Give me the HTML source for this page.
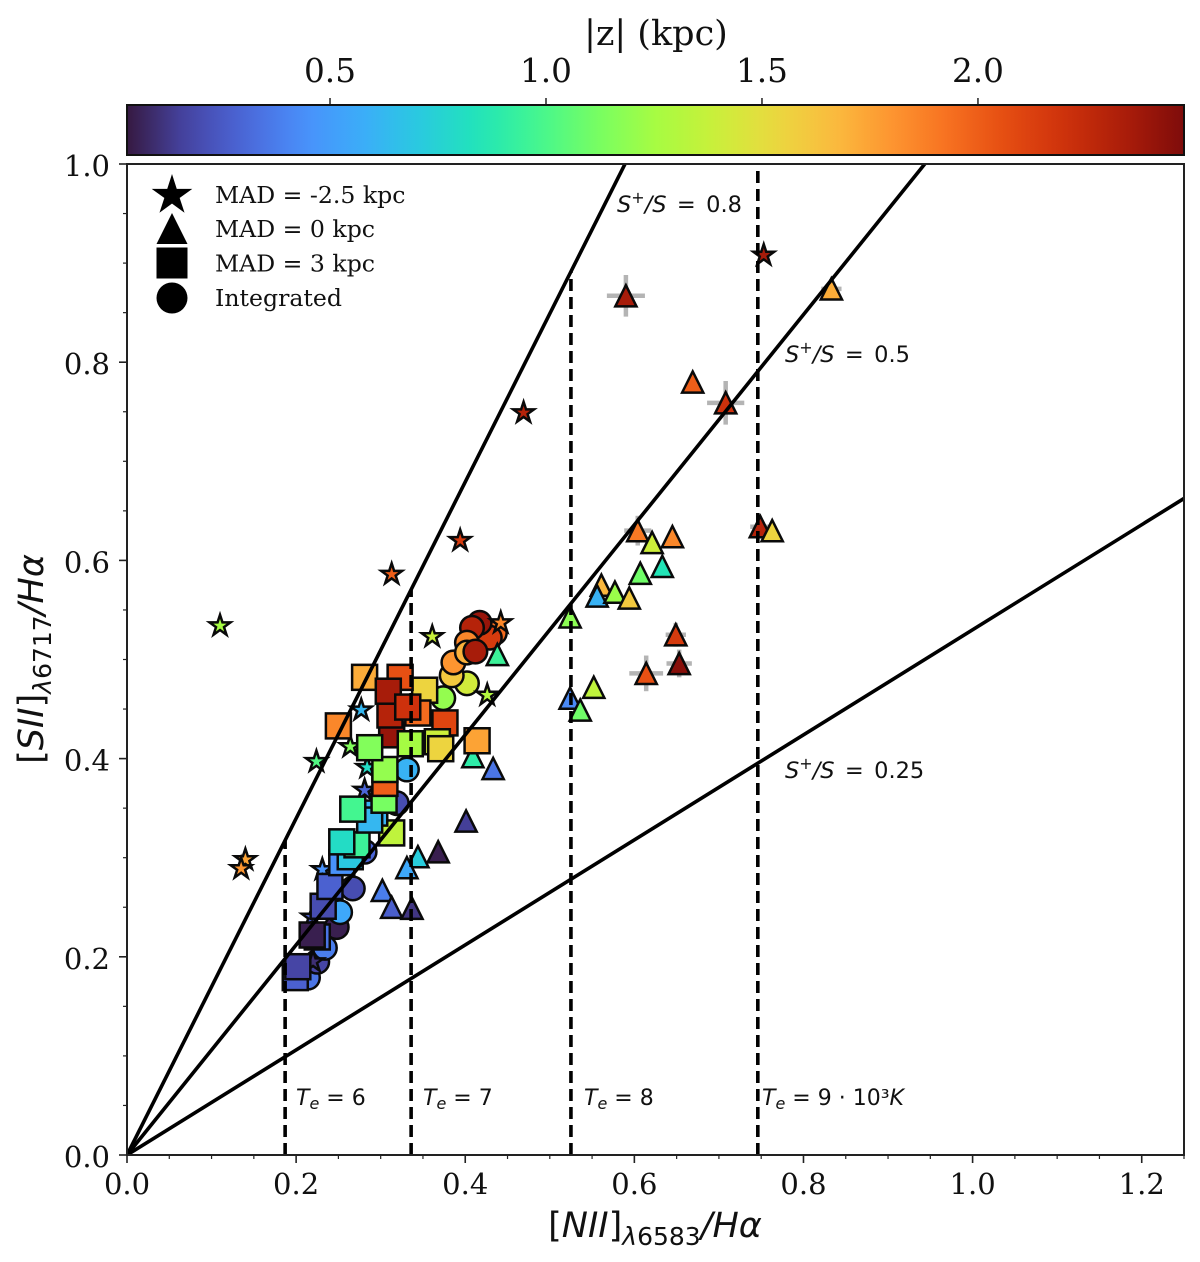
<!DOCTYPE html>
<html>
<head>
<meta charset="utf-8">
<title>SII vs NII line ratios</title>
<style>
html,body{margin:0;padding:0;background:#fff;width:1200px;height:1262px;overflow:hidden}
svg{display:block}
.serif{font-family:"DejaVu Serif","Liberation Serif",serif;fill:#111}
.sans{font-family:"DejaVu Sans","Liberation Sans",sans-serif;fill:#111}
.it{font-style:italic}
</style>
</head>
<body>
<svg id="fig" xmlns="http://www.w3.org/2000/svg" width="1200" height="1262" viewBox="0 0 1200 1262">
  <defs>
    <linearGradient id="cbar-grad" x1="0" x2="1" y1="0" y2="0"></linearGradient>
    <clipPath id="plot-clip"><rect x="127" y="164" width="1057" height="991"></rect></clipPath>
  </defs>
  <rect x="0" y="0" width="1200" height="1262" fill="#fff"></rect>

  <text class="serif" x="656" y="45" font-size="35" text-anchor="middle">|z| (kpc)</text>
  <g id="cbar-ticks"></g>
  <rect x="127" y="105" width="1057" height="50" fill="url(#cbar-grad)" stroke="#111" stroke-width="2"></rect>

  <g id="errors" clip-path="url(#plot-clip)"></g>
  <g id="circles" clip-path="url(#plot-clip)"></g>
  <g id="stars" clip-path="url(#plot-clip)"></g>
  <g id="triangles" clip-path="url(#plot-clip)"></g>
  <g id="squares" clip-path="url(#plot-clip)"></g>
  <g id="ratio-lines" clip-path="url(#plot-clip)"></g>
  <g id="temp-lines" clip-path="url(#plot-clip)"></g>

  <rect x="127" y="164" width="1057" height="991" fill="none" stroke="#222" stroke-width="2"></rect>
  <g id="axis-ticks"></g>

  <g>
    <path d="M172,176.5 L176.2,189.6 L190,189.6 L178.8,197.7 L183.1,210.8 L172,202.7 L160.900,210.800 L165.200,197.700 L154,189.6 L167.800,189.600 Z" fill="#000" stroke="#000" stroke-width="1.5"></path>
    <path d="M172,213 L187.500,244 L156.500,244 Z" fill="#000"></path>
    <rect x="156.500" y="247.500" width="31" height="31" fill="#000"></rect>
    <circle cx="172" cy="298" r="15.500" fill="#000"></circle>
    <text class="serif" x="215" y="203" font-size="23.600">MAD = -2.5 kpc</text>
    <text class="serif" x="215" y="237" font-size="23.600">MAD = 0 kpc</text>
    <text class="serif" x="215" y="271.500" font-size="23.600">MAD = 3 kpc</text>
    <text class="serif" x="215" y="306" font-size="23.600">Integrated</text>
  </g>

  <text class="sans" x="617" y="212" font-size="22.500" word-spacing="3.2"><tspan class="it">S</tspan><tspan font-size="16" dy="-9">+</tspan><tspan dy="9" class="it">/S</tspan> = 0.8</text>
  <text class="sans" x="785" y="362" font-size="22.500" word-spacing="3.2"><tspan class="it">S</tspan><tspan font-size="16" dy="-9">+</tspan><tspan dy="9" class="it">/S</tspan> = 0.5</text>
  <text class="sans" x="785" y="778" font-size="22.500" word-spacing="3.2"><tspan class="it">S</tspan><tspan font-size="16" dy="-9">+</tspan><tspan dy="9" class="it">/S</tspan> = 0.25</text>

  <text class="sans" x="296" y="1105" font-size="22"><tspan class="it">T</tspan><tspan class="it" font-size="16" dy="4">e</tspan><tspan dy="-4"> = 6</tspan></text>
  <text class="sans" x="423" y="1105" font-size="22"><tspan class="it">T</tspan><tspan class="it" font-size="16" dy="4">e</tspan><tspan dy="-4"> = 7</tspan></text>
  <text class="sans" x="584" y="1105" font-size="22"><tspan class="it">T</tspan><tspan class="it" font-size="16" dy="4">e</tspan><tspan dy="-4"> = 8</tspan></text>
  <text class="sans" x="762" y="1105" font-size="22"><tspan class="it">T</tspan><tspan class="it" font-size="16" dy="4">e</tspan><tspan dy="-4"> = 9 · 10³</tspan><tspan class="it">K</tspan></text>

  <text class="sans" x="655" y="1237" font-size="35" text-anchor="middle">[<tspan class="it">NII</tspan>]<tspan font-size="25" dy="8" class="it">λ</tspan><tspan font-size="25">6583</tspan><tspan dy="-8" class="it">/Hα</tspan></text>
  <text class="sans" transform="translate(43,659) rotate(-90)" x="0" y="0" font-size="35" text-anchor="middle">[<tspan class="it">SII</tspan>]<tspan font-size="25" dy="8" class="it">λ</tspan><tspan font-size="25">6717</tspan><tspan dy="-8" class="it">/Hα</tspan></text>
</svg>

<script>
// ---- chart data ----
const xTickLabels = ['0.0', '0.2', '0.4', '0.6', '0.8', '1.0', '1.2'];
const yTickLabels = ['0.0', '0.2', '0.4', '0.6', '0.8', '1.0'];
const cbarTickLabels = ['0.5', '1.0', '1.5', '2.0'];
const ratioSlopes = [1.698, 1.06, 0.53];
const tempLineX = [0.187, 0.336, 0.525, 0.746];

const starX = [0.753, 0.469, 0.394, 0.313, 0.110, 0.361, 0.442, 0.426, 0.277, 0.224, 0.264, 0.140, 0.135, 0.284, 0.281, 0.231, 0.219, 0.220];
const starY = [0.908, 0.749, 0.620, 0.586, 0.534, 0.523, 0.537, 0.464, 0.449, 0.397, 0.412, 0.298, 0.289, 0.391, 0.368, 0.288, 0.240, 0.195];
const starZ = [2.35, 2.30, 2.15, 2.00, 1.25, 1.38, 1.85, 1.30, 0.62, 1.02, 1.15, 1.75, 1.80, 0.80, 0.30, 0.45, 0.25, 0.10];

const triX = [0.833, 0.590, 0.669, 0.708, 0.749, 0.763, 0.604, 0.621, 0.645, 0.633, 0.607, 0.561, 0.556, 0.577, 0.594, 0.524, 0.649, 0.653, 0.614, 0.552, 0.524, 0.536, 0.438, 0.409, 0.433, 0.401, 0.368, 0.344, 0.331, 0.302, 0.313, 0.337];
const triY = [0.874, 0.867, 0.780, 0.759, 0.634, 0.630, 0.630, 0.618, 0.624, 0.594, 0.587, 0.575, 0.564, 0.568, 0.562, 0.543, 0.525, 0.496, 0.486, 0.472, 0.461, 0.449, 0.505, 0.402, 0.390, 0.337, 0.306, 0.301, 0.290, 0.267, 0.250, 0.249];
const triZ = [1.72, 2.35, 2.00, 2.20, 2.30, 1.55, 1.90, 1.40, 1.85, 0.85, 1.10, 1.68, 0.60, 1.22, 1.60, 1.18, 2.15, 2.45, 2.05, 1.35, 0.42, 1.10, 0.95, 0.90, 0.35, 0.15, 0.05, 0.72, 0.55, 0.38, 0.27, 0.12];
const triXErr = [0.012, 0.0225, 0.004, 0.022, 0.012, 0.004, 0.016, 0.004, 0.004, 0.004, 0.004, 0.004, 0.004, 0.004, 0.004, 0.004, 0.012, 0.015, 0.020, 0.004, 0.004, 0.004, 0.004, 0.004, 0.004, 0.004, 0.004, 0.004, 0.004, 0.004, 0.004, 0.004];
const triYErr = [0.010, 0.021, 0.004, 0.022, 0.005, 0.004, 0.015, 0.004, 0.004, 0.004, 0.004, 0.004, 0.004, 0.004, 0.004, 0.004, 0.012, 0.014, 0.018, 0.004, 0.004, 0.004, 0.004, 0.004, 0.004, 0.004, 0.004, 0.004, 0.004, 0.004, 0.004, 0.004];

const squareX = [0.199, 0.202, 0.225, 0.219, 0.232, 0.240, 0.254, 0.264, 0.272, 0.254, 0.313, 0.293, 0.287, 0.304, 0.267, 0.305, 0.305, 0.313, 0.287, 0.414, 0.376, 0.367, 0.371, 0.335, 0.250, 0.281, 0.352, 0.323, 0.344, 0.311, 0.309, 0.332];
const squareY = [0.179, 0.190, 0.220, 0.222, 0.251, 0.271, 0.295, 0.301, 0.313, 0.316, 0.325, 0.345, 0.338, 0.358, 0.349, 0.375, 0.389, 0.424, 0.411, 0.418, 0.436, 0.417, 0.410, 0.415, 0.433, 0.482, 0.469, 0.482, 0.446, 0.444, 0.468, 0.452];
const squareZ = [0.28, 0.17, 0.35, 0.05, 0.20, 0.28, 0.45, 0.70, 0.95, 0.80, 1.35, 0.60, 0.62, 1.12, 0.98, 2.00, 1.20, 2.40, 1.15, 1.75, 2.10, 1.40, 1.55, 1.25, 1.85, 1.72, 1.55, 2.05, 1.95, 2.30, 2.35, 2.20];

const circleX = [0.214, 0.225, 0.234, 0.248, 0.252, 0.267, 0.281, 0.319, 0.331, 0.374, 0.402, 0.384, 0.386, 0.435, 0.429, 0.417, 0.408, 0.402, 0.402, 0.412];
const circleY = [0.179, 0.195, 0.209, 0.230, 0.245, 0.269, 0.306, 0.355, 0.389, 0.461, 0.476, 0.484, 0.497, 0.527, 0.522, 0.537, 0.532, 0.517, 0.507, 0.508];
const circleZ = [0.35, 0.17, 0.38, 0.05, 0.55, 0.20, 0.30, 0.20, 0.60, 1.20, 1.42, 1.60, 1.80, 1.95, 2.15, 2.40, 2.30, 1.85, 1.70, 2.35];

// ---- axis functions ----
const NS = 'http://www.w3.org/2000/svg';
function sx(v) { return 127 + v * (1057 / 1.25); }
function sy(v) { return 1155 - v * 991; }
const zMin = 0.03, zMax = 2.477;
function cx(z) { return 127 + (z - zMin) / (zMax - zMin) * 1057; }

const turboStops = [
  [0, 0x30, 0x12, 0x3b], [0.055, 0x40, 0x3e, 0xa0], [0.111, 0x46, 0x62, 0xd7], [0.167, 0x44, 0x8c, 0xfb],
  [0.222, 0x36, 0xaa, 0xf9], [0.278, 0x22, 0xc9, 0xde], [0.333, 0x1a, 0xe4, 0xb6], [0.389, 0x3e, 0xf6, 0x8c], [0.444, 0x72, 0xfe, 0x5e],
  [0.5, 0xa4, 0xfc, 0x3c], [0.556, 0xc8, 0xef, 0x34], [0.611, 0xe9, 0xd8, 0x39], [0.667, 0xfa, 0xba, 0x39], [0.722, 0xfd, 0x93, 0x2a],
  [0.778, 0xf6, 0x6b, 0x19], [0.833, 0xe4, 0x46, 0x0a], [0.889, 0xcb, 0x2a, 0x04], [0.944, 0xa8, 0x16, 0x02], [1, 0x7a, 0x04, 0x03]
];
function turbo(t) {
  t = Math.max(0, Math.min(1, t));
  let i = 0;
  while (i < turboStops.length - 2 && t > turboStops[i + 1][0]) i++;
  const a = turboStops[i], b = turboStops[i + 1];
  const f = (t - a[0]) / (b[0] - a[0]);
  const c = [1, 2, 3].map(function (k) {
    const v = a[k] + (b[k] - a[k]) * f;
    return Math.round(v * 0.97 + 255 * 0.03);
  });
  return 'rgb(' + c[0] + ',' + c[1] + ',' + c[2] + ')';
}
function zColor(z) { return turbo((z - zMin) / (zMax - zMin)); }

function mk(tag, attrs, parent) {
  const el = document.createElementNS(NS, tag);
  for (const k in attrs) el.setAttribute(k, attrs[k]);
  parent.appendChild(el);
  return el;
}
const $ = function (id) { return document.getElementById(id); };

// colorbar gradient
for (let i = 0; i <= 40; i++) {
  const stop = mk('stop', { offset: (i / 40), 'stop-color': turbo(i / 40) }, $('cbar-grad'));
}

// colorbar ticks
cbarTickLabels.forEach(function (lab) {
  const px = cx(parseFloat(lab));
  const tick = mk('line', { x1: px, x2: px, y1: 105, y2: 98, stroke: '#222', 'stroke-width': 1.5 }, $('cbar-ticks'));
  
  
  const t = mk('text', { x: px, y: 82, 'font-size': 32.7, 'text-anchor': 'middle', class: 'serif' }, $('cbar-ticks'));
  t.textContent = lab;
  
  
});

// axis ticks
const axisG = $('axis-ticks');
for (let i = 0; i <= 25; i++) {
  const v = i * 0.05;
  const major = i % 4 === 0;
  const tick = mk('line', { x1: sx(v), x2: sx(v), y1: 1155, y2: 1155 + (major ? 8 : 4), stroke: '#222', 'stroke-width': major ? 1.6 : 1.2 }, axisG);
  
  
}
for (let i = 0; i <= 20; i++) {
  const v = i * 0.05;
  const major = i % 4 === 0;
  const tick = mk('line', { x1: 127, x2: 127 - (major ? 8 : 4), y1: sy(v), y2: sy(v), stroke: '#222', 'stroke-width': major ? 1.6 : 1.2 }, axisG);
  
  
}
xTickLabels.forEach(function (lab) {
  const t = mk('text', { x: sx(parseFloat(lab)), y: 1194, 'font-size': 29, 'text-anchor': 'middle', class: 'serif' }, axisG);
  t.textContent = lab;
  
  
});
yTickLabels.forEach(function (lab) {
  const t = mk('text', { x: 110, y: sy(parseFloat(lab)) + 12, 'font-size': 29, 'text-anchor': 'end', class: 'serif' }, axisG);
  t.textContent = lab;
  
  
});

// reference lines
ratioSlopes.forEach(function (m) {
  const l = mk('line', { x1: sx(0), y1: sy(0), x2: sx(1.25), y2: sy(1.25 * m), stroke: '#000', 'stroke-width': 3.6 }, $('ratio-lines'));
  
  
});
tempLineX.forEach(function (v) {
  const top = Math.min(1, v * ratioSlopes[0]);
  const l = mk('line', { x1: sx(v), y1: sy(0), x2: sx(v), y2: sy(top), stroke: '#000', 'stroke-width': 3.6, 'stroke-dasharray': '12 6' }, $('temp-lines'));
  
  
});

// error bars
triX.forEach(function (v, i) {
  if (triXErr[i] < 0.005 && triYErr[i] < 0.005) return;
  const h = mk('line', { x1: sx(v - triXErr[i]), x2: sx(v + triXErr[i]), y1: sy(triY[i]), y2: sy(triY[i]), stroke: '#b4b4b4', 'stroke-width': 4.5 }, $('errors'));
  
  
  const w = mk('line', { x1: sx(v), x2: sx(v), y1: sy(triY[i] - triYErr[i]), y2: sy(triY[i] + triYErr[i]), stroke: '#b4b4b4', 'stroke-width': 4.5 }, $('errors'));
  
  
});

// markers
const edge = { stroke: '#0a0a0a', 'stroke-width': 2.5, 'stroke-linejoin': 'miter' };
function style(z, extra) {
  return Object.assign({ fill: zColor(z) }, edge, extra);
}
circleX.forEach(function (v, i) {
  const el = mk('circle', style(circleZ[i], { cx: sx(v), cy: sy(circleY[i]), r: 11.8 }), $('circles'));
  
  
});
function starPath(x, y, R) {
  const r = R * 0.381966;
  let d = '';
  for (let k = 0; k < 10; k++) {
    const a = -Math.PI / 2 + k * Math.PI / 5;
    const q = k % 2 ? r : R;
    d += (k ? 'L' : 'M') + (x + q * Math.cos(a)).toFixed(2) + ',' + (y + q * Math.sin(a)).toFixed(2);
  }
  return d + 'Z';
}
starX.forEach(function (v, i) {
  const el = mk('path', style(starZ[i], { d: starPath(sx(v), sy(starY[i]), 11) }), $('stars'));
  
  
});
triX.forEach(function (v, i) {
  const x = sx(v), y = sy(triY[i]), h = 10.6;
  const el = mk('path', style(triZ[i], { d: 'M' + x + ',' + (y - h) + 'L' + (x + h) + ',' + (y + h) + 'L' + (x - h) + ',' + (y + h) + 'Z' }), $('triangles'));
  
  
});
squareX.forEach(function (v, i) {
  const x = sx(v), y = sy(squareY[i]), h = 12.5;
  const el = mk('rect', style(squareZ[i], { x: x - h, y: y - h, width: 2 * h, height: 2 * h }), $('squares'));
  
  
});
</script>
</body>
</html>
